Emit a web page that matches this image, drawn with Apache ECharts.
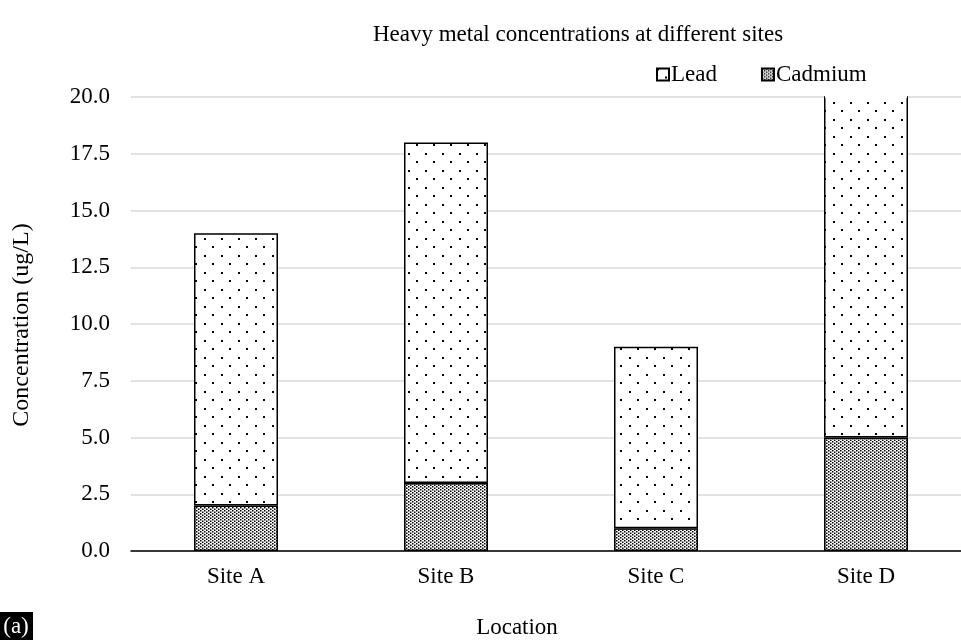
<!DOCTYPE html>
<html>
<head>
<meta charset="utf-8">
<script src="https://cdn.jsdelivr.net/npm/echarts@6/dist/echarts.min.js"></script>
<style>
html, body { margin: 0; padding: 0; background: #fff; }
#container { width: 961px; height: 642px; }
</style>
</head>
<body>
<div id="container"></div>
<script>
var sites = ['Site A', 'Site B', 'Site C', 'Site D'];
var cadmium = [2, 3, 1, 5];
var lead = [12, 15, 8, 17];
var yTicks = [0, 2.5, 5, 7.5, 10, 12.5, 15, 17.5, 20];
var yMax = 20;

// dot patterns for the bar fills
function makePattern(w, h, dots, size) {
    var c = document.createElement('canvas');
    c.width = w; c.height = h;
    var ctx = c.getContext('2d');
    ctx.fillStyle = '#fff';
    ctx.fillRect(0, 0, w, h);
    ctx.fillStyle = '#000';
    dots.forEach(function (d) { ctx.fillRect(d[0], d[1], size, size); });
    return c;
}
var sparse = makePattern(17, 17, [[0, 0], [8, 8]], 2);
var dense = makePattern(4, 3, [[0, 0], [2, 1.5]], 1.5);

var font = '"Liberation Serif", "Times New Roman", serif';
var fs = 23;
var dom = document.getElementById('container');
var myChart = echarts.init(dom);
var option = {
    textStyle: { fontFamily: font, color: '#000' },
    title: {
        text: 'Heavy metal concentrations at different sites',
        left: 573, top: 18, textAlign: 'center',
        textStyle: { fontFamily: font, fontSize: fs, fontWeight: 'normal', color: '#000' }
    },
    legend: {
        left: 651, top: 58,
        itemWidth: 12, itemHeight: 12, itemGap: 44,
        icon: 'rect',
        textStyle: { fontFamily: font, fontSize: fs, color: '#000', padding: [0, 0, 0, -3] },
        data: ['Lead', 'Cadmium']
    },
    grid: { left: 131, width: 840, top: 97, height: 454, outerBoundsMode: 'none', containLabel: false },
    xAxis: {
        type: 'category',
        data: sites,
        axisLine: { lineStyle: { color: '#000', width: 1.5 } },
        axisTick: { show: false },
        axisLabel: { fontFamily: font, fontSize: fs, color: '#000', margin: 14 }
    },
    yAxis: {
        type: 'value',
        min: 0, max: yMax, interval: 2.5,
        axisLine: { show: false },
        axisTick: { show: false },
        splitLine: { lineStyle: { color: '#d9d9d9', width: 1.5 } },
        axisLabel: {
            fontFamily: font, fontSize: fs, color: '#000', margin: 21,
            formatter: function (v) { return yTicks.indexOf(v) >= 0 ? v.toFixed(1) : ''; }
        }
    },
    graphic: [
        {
            type: 'text', x: 22, y: 325, rotation: Math.PI / 2,
            style: { text: 'Concentration (ug/L)', font: '24px ' + font, fill: '#000', textAlign: 'center', textVerticalAlign: 'middle' }
        },
        {
            type: 'text', x: 517, y: 628,
            style: { text: 'Location', font: fs + 'px ' + font, fill: '#000', textAlign: 'center', textVerticalAlign: 'middle' }
        },
        {
            type: 'rect', shape: { x: 0, y: 612, width: 33, height: 28 },
            style: { fill: '#000' }
        },
        {
            type: 'text', x: 16, y: 627,
            style: { text: '(a)', font: fs + 'px ' + font, fill: '#fff', textAlign: 'center', textVerticalAlign: 'middle' }
        }
    ],
    series: [
        {
            name: 'Cadmium', type: 'bar', stack: 'total', barWidth: '40%',
            data: cadmium, clip: true,
            itemStyle: { color: { image: dense, repeat: 'repeat' }, borderColor: '#000', borderWidth: 1.5 }
        },
        {
            name: 'Lead', type: 'bar', stack: 'total', barWidth: '40%',
            data: lead, clip: true,
            itemStyle: { color: { image: sparse, repeat: 'repeat' }, borderColor: '#000', borderWidth: 1.5 }
        }
    ]
};
myChart.setOption(option);

// bars that run past the axis max are cut open at the top, no top edge
var leadData = myChart.getModel().getSeriesByIndex(1).getData();
var topY = myChart.convertToPixel({ yAxisIndex: 0 }, yMax);
var covers = [];
lead.forEach(function (v, i) {
    if (cadmium[i] + v > yMax) {
        var l = leadData.getItemLayout(i);
        var x0 = Math.min(l.x, l.x + l.width);
        covers.push({
            type: 'rect', z: 100,
            shape: { x: x0 + 1, y: topY - 1.5, width: Math.abs(l.width) - 2, height: 2.5 },
            style: { fill: '#fff' }
        });
    }
});
myChart.setOption({ graphic: option.graphic.concat(covers) });
</script>
</body>
</html>
